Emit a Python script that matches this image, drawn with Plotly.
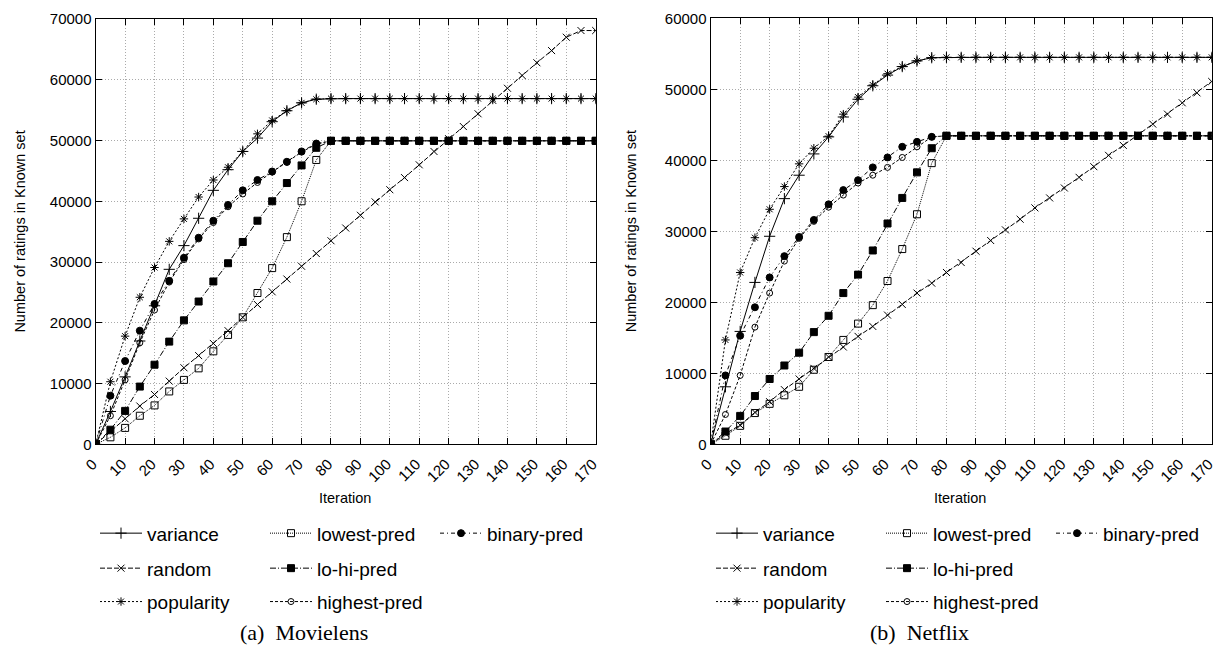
import plotly.graph_objects as go

iterations = [0, 5, 10, 15, 20, 25, 30, 35, 40, 45, 50, 55, 60, 65, 70, 75, 80, 85,
              90, 95, 100, 105, 110, 115, 120, 125, 130, 135, 140, 145, 150, 155, 160, 165, 170]
x_ticks = [0, 10, 20, 30, 40, 50, 60, 70, 80, 90, 100, 110, 120, 130, 140, 150, 160, 170]

# ---------------- Movielens ----------------
ml_variance = [0, 5400, 11100, 17000, 22800, 28800, 32700, 37200, 41800, 45200, 48200, 50400,
               53100, 54900, 56200, 56800, 56900, 56900, 56900, 56900, 56900, 56900, 56900,
               56900, 56900, 56900, 56900, 56900, 56900, 56900, 56900, 56900, 56900, 56900, 56900]
ml_random = [0, 2100, 4200, 6300, 8200, 10400, 12600, 14600, 16600, 18700, 20900, 23000, 25100,
             27200, 29300, 31400, 33500, 35600, 37700, 39900, 41900, 43900, 46000, 48200, 50300,
             52300, 54400, 56600, 58600, 60700, 62800, 64800, 67000, 68100, 68100]
ml_popularity = [0, 10300, 17800, 24200, 29100, 33400, 37100, 40700, 43500, 45600, 48200, 51100,
                 53300, 54900, 56200, 56800, 56900, 56900, 56900, 56900, 56900, 56900, 56900,
                 56900, 56900, 56900, 56900, 56900, 56900, 56900, 56900, 56900, 56900, 56900, 56900]
ml_lowest = [0, 1150, 2700, 4700, 6400, 8700, 10600, 12500, 15300, 18000, 20900, 24900, 29000,
             34100, 40000, 46800, 49950, 49950, 49950, 49950, 49950, 49950, 49950, 49950, 49950,
             49950, 49950, 49950, 49950, 49950, 49950, 49950, 49950, 49950, 49950]
ml_lohi = [0, 2400, 5500, 9500, 13100, 16900, 20400, 23500, 26800, 29800, 33300, 36800, 40000,
           43000, 45900, 48800, 49950, 49950, 49950, 49950, 49950, 49950, 49950, 49950, 49950,
           49950, 49950, 49950, 49950, 49950, 49950, 49950, 49950, 49950, 49950]
ml_highest = [0, 4700, 10600, 16700, 22100, 26700, 30400, 33800, 36500, 39100, 41200, 43100,
              44800, 46400, 48100, 49400, 49950, 49950, 49950, 49950, 49950, 49950, 49950, 49950,
              49950, 49950, 49950, 49950, 49950, 49950, 49950, 49950, 49950, 49950, 49950]
ml_binary = [0, 8000, 13700, 18700, 23100, 26900, 30700, 34000, 36800, 39400, 41800, 43500,
             44900, 46500, 48200, 49500, 49950, 49950, 49950, 49950, 49950, 49950, 49950, 49950,
             49950, 49950, 49950, 49950, 49950, 49950, 49950, 49950, 49950, 49950, 49950]

# ---------------- Netflix ----------------
nf_variance = [0, 8100, 15900, 22800, 29300, 34600, 37900, 40900, 43300, 46100, 48600, 50500,
               52000, 53200, 54000, 54450, 54500, 54500, 54500, 54500, 54500, 54500, 54500,
               54500, 54500, 54500, 54500, 54500, 54500, 54500, 54500, 54500, 54500, 54500, 54500]
nf_random = [0, 1500, 2700, 4500, 6000, 7700, 9200, 10700, 12300, 13700, 15200, 16600, 18200,
             19700, 21300, 22700, 24200, 25600, 27200, 28700, 30200, 31700, 33300, 34700, 36100,
             37600, 39100, 40700, 42100, 43600, 45100, 46500, 48100, 49500, 51100]
nf_popularity = [0, 14700, 24200, 29100, 33100, 36300, 39500, 41700, 43400, 46500, 48900, 50600,
                 52200, 53200, 54000, 54450, 54500, 54500, 54500, 54500, 54500, 54500, 54500,
                 54500, 54500, 54500, 54500, 54500, 54500, 54500, 54500, 54500, 54500, 54500, 54500]
nf_lowest = [0, 1200, 2600, 4400, 5700, 6900, 8100, 10500, 12300, 14700, 17000, 19600, 23000,
             27500, 32400, 39600, 43450, 43450, 43450, 43450, 43450, 43450, 43450, 43450, 43450,
             43450, 43450, 43450, 43450, 43450, 43450, 43450, 43450, 43450, 43450]
nf_lohi = [0, 1800, 4000, 6800, 9200, 11100, 12900, 15800, 18100, 21300, 23900, 27300, 31100,
           34700, 38300, 41700, 43450, 43450, 43450, 43450, 43450, 43450, 43450, 43450, 43450,
           43450, 43450, 43450, 43450, 43450, 43450, 43450, 43450, 43450, 43450]
nf_highest = [0, 4200, 9700, 16500, 21300, 25800, 29000, 31400, 33400, 35100, 36800, 37900,
              39000, 40400, 41900, 43300, 43450, 43450, 43450, 43450, 43450, 43450, 43450, 43450,
              43450, 43450, 43450, 43450, 43450, 43450, 43450, 43450, 43450, 43450, 43450]
nf_binary = [0, 9700, 15300, 19300, 23500, 26500, 29200, 31600, 33800, 35800, 37200, 39000,
             40400, 41900, 42600, 43300, 43450, 43450, 43450, 43450, 43450, 43450, 43450, 43450,
             43450, 43450, 43450, 43450, 43450, 43450, 43450, 43450, 43450, 43450, 43450]

series_names = ["variance", "random", "popularity", "lowest-pred", "lo-hi-pred",
                "highest-pred", "binary-pred"]

W, H = 1217, 645
FONT = "Liberation Sans, Arial, Helvetica, sans-serif"

styles = {
    "variance":     dict(dash="solid",                 symbol="cross-thin-open", size=8, row=0),
    "random":       dict(dash="5px,2px",               symbol="x-thin-open",     size=7, row=1),
    "popularity":   dict(dash="2px,2px",               symbol="asterisk-open",   size=7, row=2),
    "lowest-pred":  dict(dash="1px,1px",               symbol="square-open",     size=7, row=0),
    "lo-hi-pred":   dict(dash="6px,2px,1px,2px",       symbol="square",          size=7, row=1),
    "highest-pred": dict(dash="3px,2px",               symbol="circle-open",     size=6, row=2),
    "binary-pred":  dict(dash="4px,3px,1px,3px",       symbol="circle",          size=7, row=0),
}

fig = go.Figure()

datasets = [
    ("x", "y", [ml_variance, ml_random, ml_popularity, ml_lowest, ml_lohi, ml_highest, ml_binary], 0),
    ("x2", "y2", [nf_variance, nf_random, nf_popularity, nf_lowest, nf_lohi, nf_highest, nf_binary], 3),
]

for xa, ya, values, legoff in datasets:
    for name, vals in zip(series_names, values):
        st = styles[name]
        lg_idx = legoff + st["row"] + 1
        lg = "legend" if lg_idx == 1 else f"legend{lg_idx}"
        fig.add_trace(go.Scatter(
            x=iterations, y=vals, name=name, mode="lines+markers",
            xaxis=xa, yaxis=ya, legend=lg,
            line=dict(color="black", width=1, dash=st["dash"]),
            marker=dict(symbol=st["symbol"], size=st["size"], color="black",
                        line=dict(color="black", width=1)),
        ))

def px_x(p):
    return p / W

def px_y(p):
    return 1 - p / H

axis_common = dict(
    showline=True, linecolor="black", linewidth=1.3, mirror="ticks",
    ticks="inside", ticklen=6, tickcolor="black", tickwidth=1,
    showgrid=True, gridcolor="#aaaaaa", gridwidth=1, griddash="1px,2px",
    zeroline=False, tickfont=dict(family=FONT, size=15, color="black"),
    tickformat="d", exponentformat="none", ticklabeloverflow="allow",
)
x_extra = dict(tickangle=-45, ticklabelstandoff=4, ticklabelshift=-3)

fig.update_layout(
    width=W, height=H,
    margin=dict(l=0, r=0, t=0, b=0, autoexpand=False),
    paper_bgcolor="white", plot_bgcolor="white",
    font=dict(family=FONT, color="black"),
    xaxis=dict(domain=[px_x(95.7), px_x(595.7)], range=[0, 170], tickvals=x_ticks,
               anchor="y", automargin=False, **x_extra, **axis_common),
    yaxis=dict(domain=[px_y(444.3), px_y(19)], range=[0, 70000], dtick=10000,
               anchor="x", automargin=False, **axis_common),
    xaxis2=dict(domain=[px_x(710.7), px_x(1211.7)], range=[0, 170], tickvals=x_ticks,
                anchor="y2", automargin=False, **x_extra, **axis_common),
    yaxis2=dict(domain=[px_y(444.3), px_y(18.3)], range=[0, 60000], dtick=10000,
                anchor="x2", automargin=False, **axis_common),
)

row_y = [533.3, 568.3, 601.7]
legend_x = [95, 711]
for side in range(2):
    for r in range(3):
        idx = side * 3 + r + 1
        key = "legend" if idx == 1 else f"legend{idx}"
        fig.layout[key] = dict(
            orientation="h", x=px_x(legend_x[side]), xanchor="left",
            y=px_y(row_y[r]), yanchor="middle",
            entrywidth=113, entrywidthmode="pixels", itemwidth=42,
            font=dict(family=FONT, size=19, color="black"),
            bgcolor="rgba(0,0,0,0)", borderwidth=0, tracegroupgap=0,
        )

annotations = [
    dict(text="Number of ratings in Known set", x=px_x(20), y=px_y(231.6), textangle=-90,
         font=dict(size=14.5)),
    dict(text="Number of ratings in Known set", x=px_x(631), y=px_y(231.3), textangle=-90,
         font=dict(size=14.5)),
    dict(text="Iteration", x=px_x(345), y=px_y(498), font=dict(size=14.5)),
    dict(text="Iteration", x=px_x(960), y=px_y(498), font=dict(size=14.5)),
    dict(text="(a)  Movielens", x=px_x(304), y=px_y(632),
         font=dict(size=22, family="Liberation Serif, Times New Roman, serif")),
    dict(text="(b)  Netflix", x=px_x(919), y=px_y(632),
         font=dict(size=22, family="Liberation Serif, Times New Roman, serif")),
]
for a in annotations:
    a.update(xref="paper", yref="paper", showarrow=False, xanchor="center", yanchor="middle")
    a.setdefault("font", {})
    a["font"].setdefault("family", FONT)
    a["font"]["color"] = "black"
fig.update_layout(annotations=annotations)

fig.write_html("out.html")
